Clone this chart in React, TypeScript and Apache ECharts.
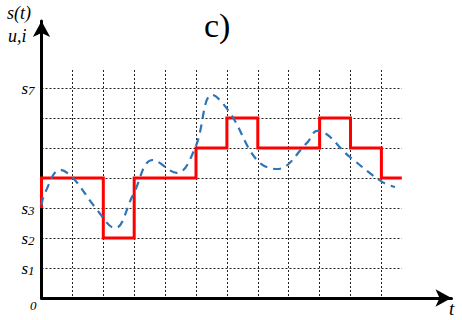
import React, { useEffect, useRef } from "react";
import * as echarts from "echarts";

// Step signal u,i (red): [t, level]
const stepT = [0, 0, 2, 2, 3, 3, 5, 5, 6, 6, 7, 7, 9, 9, 10, 10, 11, 11, 11.66];
const stepV = [3, 4, 4, 2, 2, 4, 4, 5, 5, 6, 6, 5, 5, 6, 6, 5, 5, 4, 4];
// Analog signal s(t) (blue dashed)
const sigT = [0, 0.11, 0.6, 1.02, 1.73, 2.38, 2.96, 3.6, 4.38, 4.97, 5.52, 6.1, 6.97, 7.62, 8.59, 8.92, 9.98, 11.02, 11.44];
const sigV = [3.1, 3.5, 4.27, 4.0, 3.03, 2.33, 3.43, 4.6, 4.17, 5.0, 6.77, 6.17, 4.6, 4.3, 5.17, 5.57, 4.7, 3.87, 3.7];
// y tick labels (level -> subscript)
const levelLabels: Record<number, string> = { 1: "1", 2: "2", 3: "3", 7: "7" };

const SERIF = "Times New Roman, Liberation Serif, DejaVu Serif, serif";

export default function App() {
  const ref = useRef<HTMLDivElement>(null);
  useEffect(() => {
    if (!ref.current) return;
    const chart = echarts.init(ref.current, null, { renderer: "svg" });
    const xMax = 11.66;
    const yMax = 7.6;
    const ux = 30.9;
    const uy = 30;
    const x0 = 41.5;
    const y0 = 298;
    chart.setOption({
      animation: false,
      textStyle: { fontFamily: SERIF },
      grid: [
        { left: x0, top: y0 - yMax * uy, width: xMax * ux, height: yMax * uy },
        { left: x0, top: 21, width: 410, height: y0 - 21 },
      ],
      xAxis: [
        {
          gridIndex: 0,
          type: "value",
          min: 0,
          max: xMax,
          interval: 1,
          axisLine: { show: false },
          axisTick: { show: false },
          axisLabel: { show: false },
          splitLine: {
            show: true,
            showMinLine: false,
            showMaxLine: false,
            lineStyle: { color: "#222", width: 1, type: [2, 2] },
          },
        },
        {
          gridIndex: 1,
          type: "value",
          min: 0,
          max: 1,
          axisLine: {
            show: true,
            symbol: ["none", "arrow"],
            symbolSize: [13, 16],
            lineStyle: { color: "#000", width: 3 },
          },
          axisTick: { show: false },
          axisLabel: { show: false },
          splitLine: { show: false },
        },
      ],
      yAxis: [
        {
          gridIndex: 0,
          type: "value",
          min: 0,
          max: yMax,
          interval: 1,
          axisLine: { show: false },
          axisTick: { show: false },
          axisLabel: {
            show: true,
            margin: 7,
            formatter: (v: number) => (levelLabels[v] ? `{s|s}{n|${levelLabels[v]}}` : ""),
            rich: {
              s: { fontFamily: SERIF, fontStyle: "italic", fontSize: 17, color: "#000" },
              n: { fontFamily: SERIF, fontStyle: "italic", fontSize: 13, color: "#000", padding: [4, 0, 0, 0] },
            },
          },
          splitLine: {
            show: true,
            showMinLine: false,
            showMaxLine: false,
            lineStyle: { color: "#222", width: 1, type: [2, 2] },
          },
        },
        {
          gridIndex: 1,
          type: "value",
          min: 0,
          max: 1,
          axisLine: {
            show: true,
            symbol: ["none", "arrow"],
            symbolSize: [13, 16],
            lineStyle: { color: "#000", width: 3 },
          },
          axisTick: { show: false },
          axisLabel: { show: false },
          splitLine: { show: false },
        },
      ],
      series: [
        {
          type: "line",
          xAxisIndex: 0,
          yAxisIndex: 0,
          data: stepT.map((t, i) => [t, stepV[i]]),
          symbol: "none",
          clip: false,
          lineStyle: { color: "#ff0000", width: 3, join: "miter", cap: "butt" },
          z: 3,
        },
        {
          type: "line",
          xAxisIndex: 0,
          yAxisIndex: 0,
          data: sigT.map((t, i) => [t, sigV[i]]),
          symbol: "none",
          smooth: 0.4,
          clip: false,
          lineStyle: { color: "#2e75b6", width: 2.2, type: [8, 6] },
          z: 4,
        },
      ],
      graphic: [
        {
          type: "text",
          left: 7,
          top: 4,
          style: { text: "s(t)", font: `italic 18px ${SERIF}`, fill: "#000" },
        },
        {
          type: "text",
          left: 8,
          top: 27,
          style: { text: "u,i", font: `italic 18px ${SERIF}`, fill: "#000" },
        },
        {
          type: "text",
          left: 204,
          top: 8,
          style: { text: "c)", font: `34px ${SERIF}`, fill: "#000" },
        },
        {
          type: "text",
          left: 30,
          top: 299,
          style: { text: "0", font: `italic 13px ${SERIF}`, fill: "#000" },
        },
        {
          type: "text",
          left: 449,
          top: 299,
          style: { text: "t", font: `italic 19px ${SERIF}`, fill: "#000" },
        },
      ],
    });
    return () => chart.dispose();
  }, []);
  return (
    <div
      ref={ref}
      style={{ position: "fixed", left: 0, top: 0, width: 462, height: 320, background: "#fff" }}
    />
  );
}
